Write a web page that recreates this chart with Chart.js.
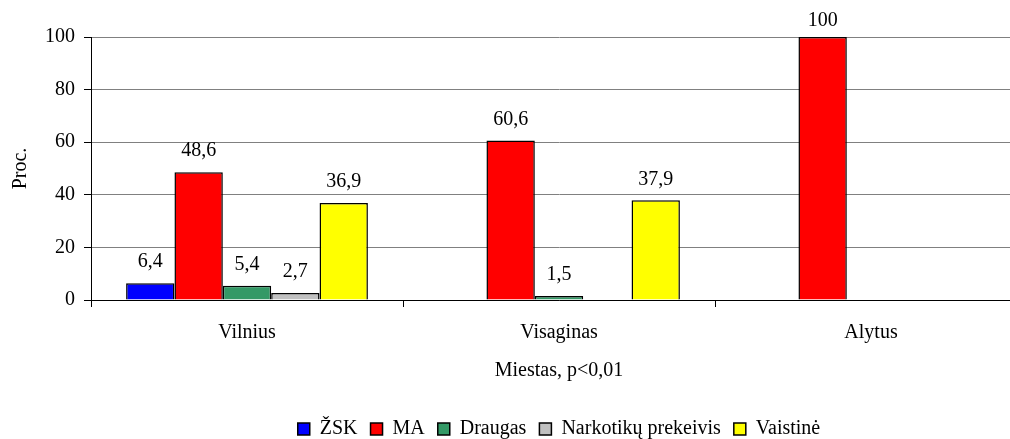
<!DOCTYPE html>
<html>
<head>
<meta charset="utf-8">
<script src="https://cdn.jsdelivr.net/npm/chart.js@4.4.0/dist/chart.umd.min.js"></script>
<style>
  html, body { margin: 0; padding: 0; background: #fff; overflow: hidden; }
  #wrap { width: 1027px; height: 449px; }
</style>
</head>
<body>
<div id="wrap"><canvas id="chart" width="1027" height="449"></canvas></div>
<script>
// duomenys
const cities = ['Vilnius', 'Visaginas', 'Alytus'];
const seriesNames = ['ŽSK', 'MA', 'Draugas', 'Narkotikų prekeivis', 'Vaistinė'];
const zsk = [6.4, null, null];
const ma = [48.6, 60.6, 100];
const draugas = [5.4, 1.5, null];
const prekeivis = [2.7, null, null];
const vaistine = [36.9, 37.9, null];
const yTicks = [0, 20, 40, 60, 80, 100];

const seriesValues = [zsk, ma, draugas, prekeivis, vaistine];
const seriesColors = ['#0000ff', '#ff0000', '#339966', '#c0c0c0', '#ffff00'];

const serif = 'Liberation Serif, Times New Roman, serif';
const fontSize = 20;

// reikšmės virš stulpelių
const valueLabels = {
    id: 'valueLabels',
    afterDatasetsDraw(chart) {
        const ctx = chart.ctx;
        ctx.save();
        ctx.font = fontSize + 'px ' + serif;
        ctx.fillStyle = '#000';
        ctx.textAlign = 'center';
        ctx.textBaseline = 'middle';
        chart.data.datasets.forEach((ds, i) => {
            const meta = chart.getDatasetMeta(i);
            meta.data.forEach((bar, j) => {
                const v = ds.data[j];
                if (v === null || v === undefined) return;
                const y = Math.max(bar.y - 21, 21);
                ctx.fillText(String(v).replace('.', ','), bar.x, y);
            });
        });
        ctx.restore();
    }
};

new Chart(document.getElementById('chart').getContext('2d'), {
    type: 'bar',
    data: {
        labels: cities,
        datasets: seriesNames.map((name, i) => ({
            label: name,
            data: seriesValues[i],
            backgroundColor: seriesColors[i],
            borderColor: '#000',
            borderWidth: 1.5,
            categoryPercentage: 0.775,
            barPercentage: 1.0
        }))
    },
    options: {
        responsive: false,
        animation: false,
        layout: { padding: { top: 37, right: 0, left: 0, bottom: 0 } },
        plugins: {
            title: { display: false },
            tooltip: { enabled: false },
            legend: {
                position: 'bottom',
                fullSize: false,
                labels: {
                    color: '#000',
                    font: { family: serif, size: fontSize },
                    boxWidth: 12,
                    boxHeight: 12,
                    padding: 13
                }
            }
        },
        scales: {
            x: {
                grid: {
                    display: true,
                    drawOnChartArea: false,
                    drawTicks: true,
                    tickLength: 7,
                    tickColor: '#000',
                    offset: true
                },
                border: { display: true, color: '#000', width: 1 },
                ticks: {
                    color: '#000',
                    font: { family: serif, size: fontSize },
                    padding: 14
                },
                title: {
                    display: true,
                    text: 'Miestas, p<0,01',
                    color: '#000',
                    font: { family: serif, size: fontSize },
                    padding: { top: 0, bottom: 23 }
                },
                afterFit(scale) { scale.height = 106; }
            },
            y: {
                min: 0,
                max: 100,
                afterBuildTicks(scale) { scale.ticks = yTicks.map(v => ({ value: v })); },
                grid: {
                    color: '#808080',
                    tickColor: '#000',
                    tickLength: 7
                },
                border: { display: true, color: '#000', width: 1 },
                ticks: {
                    color: '#000',
                    font: { family: serif, size: fontSize },
                    padding: 9
                },
                title: {
                    display: true,
                    text: 'Proc.',
                    color: '#000',
                    font: { family: serif, size: fontSize },
                    padding: { top: 9, bottom: 0 }
                },
                afterFit(scale) { scale.width = 91; }
            }
        }
    },
    plugins: [valueLabels]
});
</script>
</body>
</html>
